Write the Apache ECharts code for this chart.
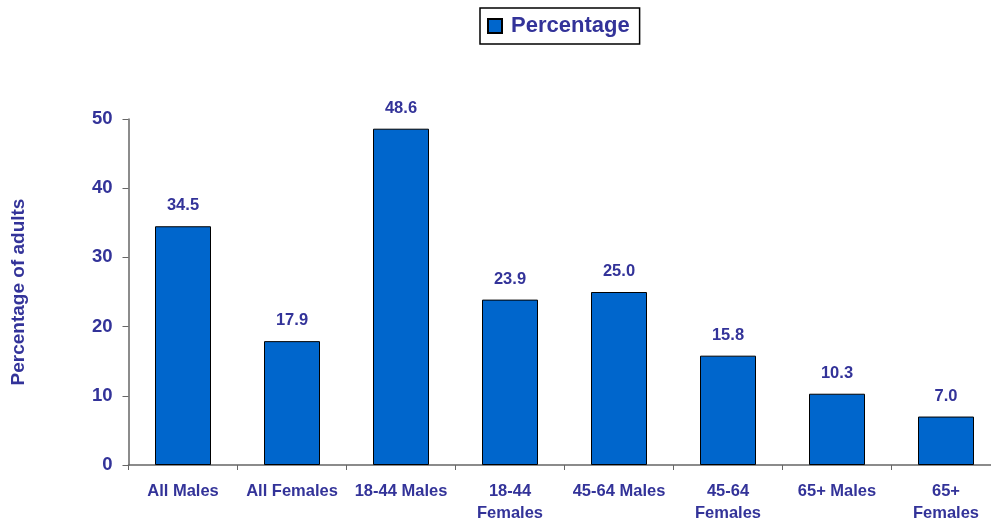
<!DOCTYPE html>
<html>
<head>
<meta charset="utf-8">
<script src="https://cdn.jsdelivr.net/npm/echarts@6/dist/echarts.min.js"></script>
<style>
  html, body { margin: 0; padding: 0; background: #fff; }
  #chart { width: 991px; height: 521px; }
</style>
</head>
<body>
<div id="chart"></div>
<script>
// Share of adults by sex and age group
const categories = ['All Males', 'All Females', '18-44 Males', '18-44\nFemales',
  '45-64 Males', '45-64\nFemales', '65+ Males', '65+\nFemales'];
const percentage = [34.5, 17.9, 48.6, 23.9, 25.0, 15.8, 10.3, 7.0];
const yTicks = [0, 10, 20, 30, 40, 50];

const textColor = '#333399';
const font = 'Liberation Sans, Arial, sans-serif';

const chart = echarts.init(document.getElementById('chart'));
chart.setOption({
  animation: false,
  textStyle: { fontFamily: font },
  legend: {
    top: 8,
    left: 480,
    data: ['Percentage'],
    icon: 'rect',
    itemWidth: 14,
    itemHeight: 14,
    itemGap: 6,
    padding: [7, 10, 7, 7],
    borderColor: '#000',
    borderWidth: 1.5,
    textStyle: { color: textColor, fontSize: 22, fontWeight: 'bold', fontFamily: font, padding: [0, 0, 0, 4] }
  },
  grid: {
    left: 128.5, width: 872, top: 119, height: 346,
    containLabel: false, outerBoundsMode: 'none'
  },
  xAxis: {
    type: 'category',
    data: categories,
    axisLine: { lineStyle: { color: '#666', width: 1.5 } },
    axisTick: { show: true, length: 5, alignWithLabel: false, lineStyle: { color: '#666' } },
    axisLabel: {
      interval: 0, color: textColor, fontSize: 16.5, fontWeight: 'bold',
      lineHeight: 22, margin: 15, fontFamily: font
    }
  },
  yAxis: {
    type: 'value',
    min: yTicks[0],
    max: yTicks[yTicks.length - 1],
    interval: 10,
    name: 'Percentage of adults',
    nameLocation: 'middle',
    nameGap: 100,
    nameTextStyle: { color: textColor, fontSize: 19, fontWeight: 'bold', fontFamily: font },
    axisLine: { show: true, lineStyle: { color: '#666', width: 1.5 } },
    axisTick: { show: true, length: 6, lineStyle: { color: '#666' } },
    splitLine: { show: false },
    axisLabel: { color: textColor, fontSize: 18.5, fontWeight: 'bold', margin: 16, fontFamily: font }
  },
  series: [{
    name: 'Percentage',
    type: 'bar',
    data: percentage,
    barWidth: 56,
    itemStyle: { color: '#0066CC', borderColor: '#000', borderWidth: 1 },
    label: {
      show: true, position: 'top', distance: 12,
      formatter: p => p.value.toFixed(1),
      color: textColor, fontSize: 16.5, fontWeight: 'bold', fontFamily: font
    }
  }]
});
</script>
</body>
</html>
